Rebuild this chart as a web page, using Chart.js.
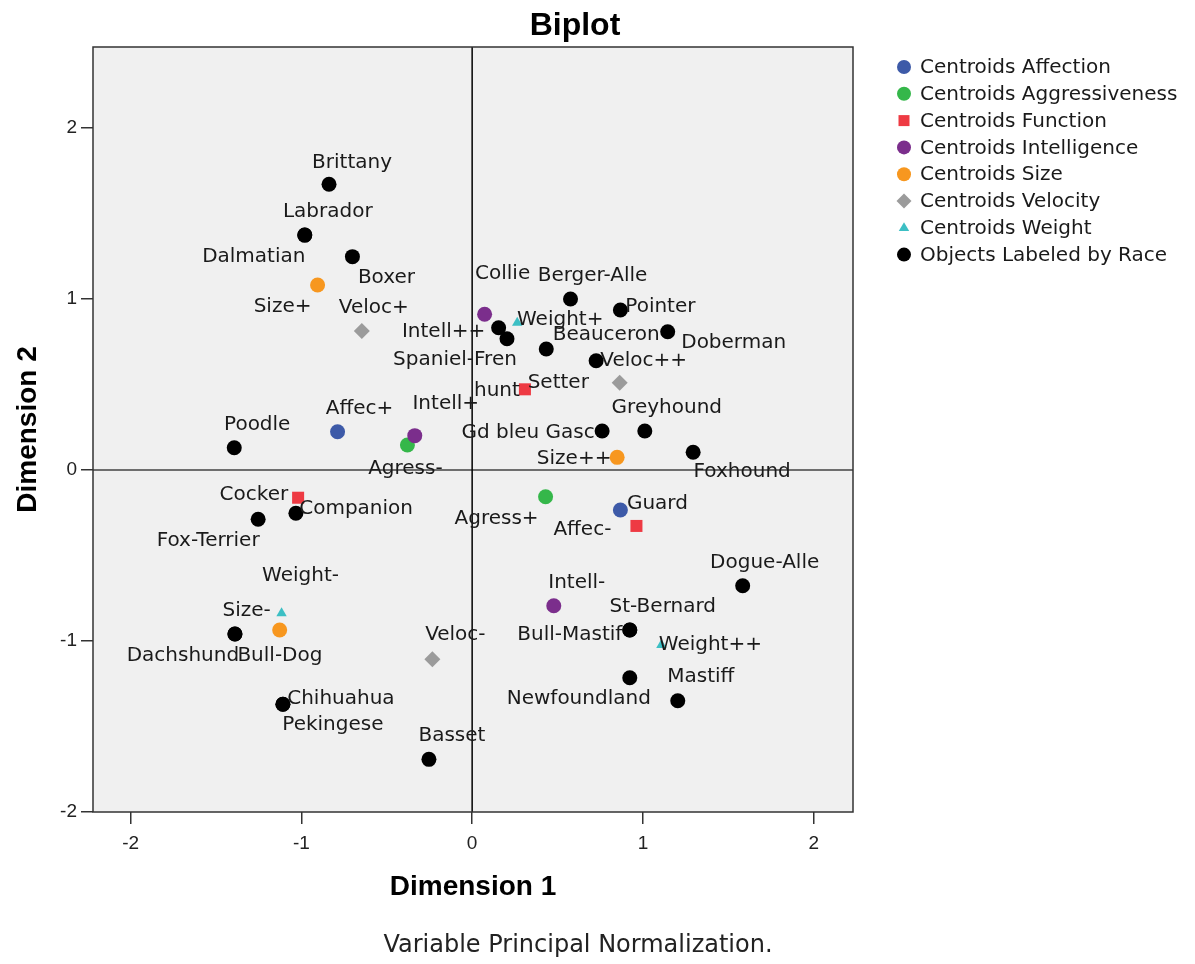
<!DOCTYPE html>
<html>
<head>
  <title>Biplot</title>
  <script src="https://cdn.jsdelivr.net/npm/chart.js"></script>
  <style>
    html, body { margin: 0; padding: 0; background: #fff; }
  </style>
</head>
<body>
  <canvas id="biplot" width="1195" height="964"></canvas>
  <script>
    // object scores, labeled by race
    const raceNames = ['Brittany', 'Labrador', 'Dalmatian', 'Boxer', 'Poodle', 'Cocker', 'Fox-Terrier',
      'Dachshund', 'Bull-Dog', 'Chihuahua', 'Pekingese', 'Basset', 'Collie', 'Spaniel-Fren', 'Setter',
      'Berger-Alle', 'Pointer', 'Doberman', 'Beauceron', 'Gd bleu Gasc', 'Greyhound', 'Foxhound',
      'Dogue-Alle', 'St-Bernard', 'Bull-Mastif', 'Newfoundland', 'Mastiff'];
    const raceDim1 = [-0.838, -0.980, -0.980, -0.701, -1.393, -1.032, -1.253,
      -1.389, -1.389, -1.108, -1.108, -0.253, 0.155, 0.204, 0.434,
      0.576, 0.868, 1.145, 0.726, 0.761, 1.011, 1.294,
      1.584, 0.923, 0.923, 0.923, 1.204];
    const raceDim2 = [1.671, 1.374, 1.374, 1.248, 0.130, -0.253, -0.288,
      -0.959, -0.959, -1.370, -1.370, -1.692, 0.832, 0.768, 0.708,
      1.000, 0.936, 0.809, 0.639, 0.228, 0.228, 0.104,
      -0.677, -0.936, -0.936, -1.215, -1.349];

    // category centroids
    const affecNames = ['Affec+', 'Affec-'];
    const affecDim1 = [-0.788, 0.868];
    const affecDim2 = [0.224, -0.234];

    const agressNames = ['Agress-', 'Agress+'];
    const agressDim1 = [-0.379, 0.430];
    const agressDim2 = [0.146, -0.156];

    const functionNames = ['Companion', 'hunt', 'Guard'];
    const functionDim1 = [-1.019, 0.309, 0.962];
    const functionDim2 = [-0.162, 0.472, -0.327];

    const intellNames = ['Intell++', 'Intell+', 'Intell-'];
    const intellDim1 = [0.073, -0.336, 0.478];
    const intellDim2 = [0.911, 0.201, -0.794];

    const sizeNames = ['Size+', 'Size++', 'Size-'];
    const sizeDim1 = [-0.905, 0.849, -1.127];
    const sizeDim2 = [1.082, 0.074, -0.936];

    const velocNames = ['Veloc+', 'Veloc++', 'Veloc-'];
    const velocDim1 = [-0.646, 0.864, -0.233];
    const velocDim2 = [0.813, 0.511, -1.107];

    const weightNames = ['Weight+', 'Weight++', 'Weight-'];
    const weightDim1 = [0.264, 1.108, -1.116];
    const weightDim2 = [0.861, -1.023, -0.838];

    // where each point label sits relative to its marker (pixels, label centre)
    const labelNudge = {
      'Brittany': [23, -22], 'Labrador': [23, -23], 'Dalmatian': [-51, 22], 'Boxer': [34, 21],
      'Poodle': [23, -23], 'Cocker': [-42, -18], 'Fox-Terrier': [-50, 22], 'Dachshund': [-52, 22],
      'Bull-Dog': [45, 22], 'Chihuahua': [58, -5], 'Pekingese': [50, 21], 'Basset': [23, -24],
      'Collie': [4, -54], 'Spaniel-Fren': [-52, 21], 'Setter': [12, 34], 'Berger-Alle': [22, -23],
      'Pointer': [40, -3], 'Doberman': [66, 11], 'Beauceron': [10, -26], 'Gd bleu Gasc': [-74, 2],
      'Greyhound': [22, -23], 'Foxhound': [49, 20], 'Dogue-Alle': [22, -23], 'St-Bernard': [33, -23],
      'Bull-Mastif': [-60, 5], 'Newfoundland': [-51, 21], 'Mastiff': [23, -24],
      'Affec+': [22, -23], 'Affec-': [-38, 20], 'Agress-': [-2, 24], 'Agress+': [-49, 22],
      'Companion': [58, 11], 'hunt': [-28, 1], 'Guard': [21, -22],
      'Intell++': [-41, 18], 'Intell+': [31, -32], 'Intell-': [23, -23],
      'Size+': [-35, 22], 'Size++': [-43, 1], 'Size-': [-33, -19],
      'Veloc+': [12, -23], 'Veloc++': [24, -22], 'Veloc-': [23, -25],
      'Weight+': [43, -3], 'Weight++': [49, 0], 'Weight-': [19, -38]
    };

    const LABEL_FONT = '20px "DejaVu Sans"';

    function pts(xs, ys) {
      return xs.map((x, i) => ({ x: x, y: ys[i] }));
    }

    function group(label, names, xs, ys, color, style, radius, order) {
      return {
        label: label,
        names: names,
        data: pts(xs, ys),
        backgroundColor: color,
        borderColor: color,
        borderWidth: 0,
        pointStyle: style,
        pointRadius: radius,
        order: order
      };
    }

    const datasets = [
      group('Centroids Affection', affecNames, affecDim1, affecDim2, '#3d5aa8', 'circle', 7.5, 8),
      group('Centroids Aggressiveness', agressNames, agressDim1, agressDim2, '#35b74a', 'circle', 7.5, 7),
      group('Centroids Function', functionNames, functionDim1, functionDim2, '#ee3a43', 'rect', 8.5, 6),
      group('Centroids Intelligence', intellNames, intellDim1, intellDim2, '#7b2e8c', 'circle', 7.5, 5),
      group('Centroids Size', sizeNames, sizeDim1, sizeDim2, '#f7971f', 'circle', 7.5, 4),
      group('Centroids Velocity', velocNames, velocDim1, velocDim2, '#9b9b9b', 'rectRot', 8, 3),
      group('Centroids Weight', weightNames, weightDim1, weightDim2, '#3cbfc4', 'triangle', 6, 2),
      group('Objects Labeled by Race', raceNames, raceDim1, raceDim2, '#000000', 'circle', 7.5, 1)
    ];

    function drawMarker(ctx, style, x, y, r, color) {
      ctx.fillStyle = color;
      ctx.beginPath();
      if (style === 'circle') {
        ctx.arc(x, y, r, 0, Math.PI * 2);
      } else if (style === 'rect') {
        ctx.rect(x - r, y - r, 2 * r, 2 * r);
      } else if (style === 'rectRot') {
        ctx.moveTo(x, y - r); ctx.lineTo(x + r, y); ctx.lineTo(x, y + r); ctx.lineTo(x - r, y);
        ctx.closePath();
      } else if (style === 'triangle') {
        ctx.moveTo(x, y - r); ctx.lineTo(x + r * 0.95, y + r * 0.6); ctx.lineTo(x - r * 0.95, y + r * 0.6);
        ctx.closePath();
      }
      ctx.fill();
    }

    const biplotDecor = {
      id: 'biplotDecor',
      beforeDraw(chart) {
        const { ctx, chartArea: a } = chart;
        ctx.save();
        ctx.fillStyle = '#ffffff';
        ctx.fillRect(0, 0, chart.width, chart.height);
        ctx.fillStyle = '#f0f0f0';
        ctx.fillRect(a.left, a.top, a.right - a.left, a.bottom - a.top);
        ctx.restore();
      },
      beforeDatasetsDraw(chart) {
        const { ctx, chartArea: a, scales } = chart;
        const x0 = scales.x.getPixelForValue(0);
        const y0 = scales.y.getPixelForValue(0);
        ctx.save();
        ctx.strokeStyle = '#6e6e6e';
        ctx.lineWidth = 2;
        ctx.beginPath(); ctx.moveTo(a.left, y0); ctx.lineTo(a.right, y0); ctx.stroke();
        ctx.strokeStyle = '#000000';
        ctx.lineWidth = 1.5;
        ctx.beginPath(); ctx.moveTo(x0, a.top); ctx.lineTo(x0, a.bottom); ctx.stroke();
        ctx.restore();
      },
      afterDatasetsDraw(chart) {
        const { ctx, chartArea: a } = chart;
        ctx.save();
        ctx.strokeStyle = '#333333';
        ctx.lineWidth = 1.5;
        ctx.strokeRect(a.left, a.top, a.right - a.left, a.bottom - a.top);

        // point labels
        ctx.font = LABEL_FONT;
        ctx.fillStyle = '#1a1a1a';
        ctx.textAlign = 'center';
        ctx.textBaseline = 'middle';
        chart.data.datasets.forEach((ds, di) => {
          const meta = chart.getDatasetMeta(di);
          meta.data.forEach((el, i) => {
            const name = ds.names[i];
            const n = labelNudge[name] || [22, -23];
            ctx.fillText(name, el.x + n[0], el.y + n[1]);
          });
        });

        // titles
        ctx.fillStyle = '#000000';
        ctx.font = 'bold 32px "Liberation Sans"';
        ctx.fillText('Biplot', 575, 26);
        ctx.font = 'bold 28px "Liberation Sans"';
        ctx.fillText('Dimension 1', (a.left + a.right) / 2, 887);
        ctx.save();
        ctx.translate(28, (a.top + a.bottom) / 2);
        ctx.rotate(-Math.PI / 2);
        ctx.fillText('Dimension 2', 0, 0);
        ctx.restore();
        ctx.fillStyle = '#222222';
        ctx.font = '24px "DejaVu Sans"';
        ctx.fillText('Variable Principal Normalization.', 578, 946);

        // legend
        const legendSize = { circle: 7, rect: 5.5, rectRot: 7.5, triangle: 5.5 };
        ctx.textAlign = 'left';
        ctx.font = LABEL_FONT;
        chart.data.datasets.forEach((ds, i) => {
          const y = 67 + i * 26.8;
          drawMarker(ctx, ds.pointStyle, 904, y, legendSize[ds.pointStyle], ds.backgroundColor);
          ctx.fillStyle = '#1a1a1a';
          ctx.fillText(ds.label, 920, y + 1);
        });
        ctx.restore();
      }
    };

    const tickFont = { family: '"Liberation Sans"', size: 19 };

    new Chart(document.getElementById('biplot'), {
      type: 'scatter',
      data: { datasets: datasets },
      options: {
        responsive: false,
        animation: false,
        events: [],
        layout: { padding: { left: 0, top: 47, right: 342, bottom: 0 } },
        plugins: {
          legend: { display: false },
          tooltip: { enabled: false },
          title: { display: false }
        },
        scales: {
          x: {
            type: 'linear',
            min: -2.22,
            max: 2.23,
            afterFit(scale) { scale.height = 152; },
            border: { display: false },
            grid: { drawOnChartArea: false, drawTicks: true, tickLength: 12, color: '#333333', lineWidth: 1.5 },
            ticks: { stepSize: 1, includeBounds: false, padding: 8, color: '#222222', font: tickFont }
          },
          y: {
            type: 'linear',
            min: -2,
            max: 2.474,
            afterFit(scale) { scale.width = 93; },
            border: { display: false },
            grid: { drawOnChartArea: false, drawTicks: true, tickLength: 12, color: '#333333', lineWidth: 1.5 },
            ticks: { stepSize: 1, includeBounds: false, padding: 4, color: '#222222', font: tickFont }
          }
        }
      },
      plugins: [biplotDecor]
    });
  </script>
</body>
</html>
